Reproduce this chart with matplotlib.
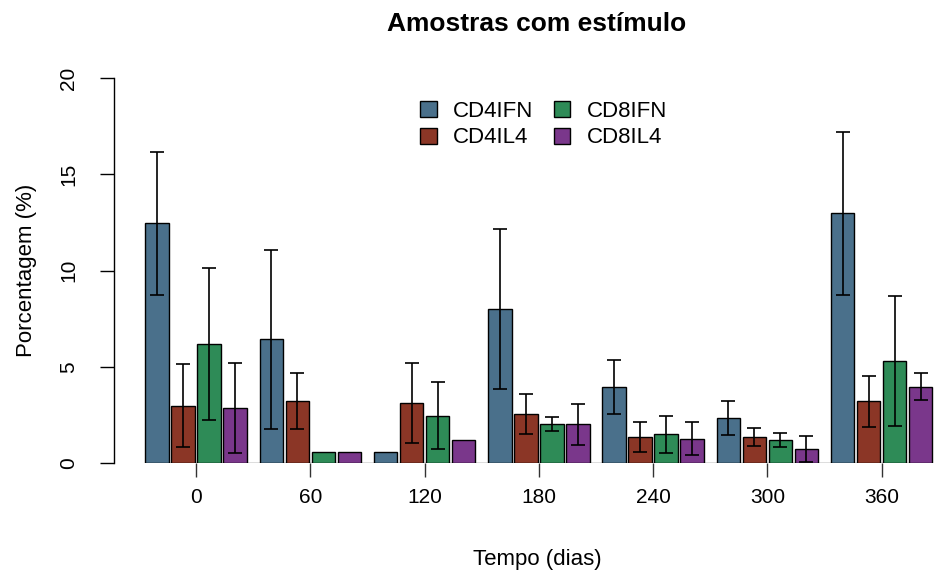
import numpy as np
import matplotlib
matplotlib.use("Agg")
import matplotlib.pyplot as plt
from matplotlib.patches import Patch

plt.rcParams['font.family'] = ['Liberation Sans', 'DejaVu Sans']

# dias de coleta
dias = ['0', '60', '120', '180', '240', '300', '360']
series = ['CD4IFN', 'CD4IL4', 'CD8IFN', 'CD8IL4']
cores = ['#4A708B', '#8B3626', '#2E8B57', '#7A378B']

# medias (%)
cd4ifn = [12.45, 6.42, 0.59, 8.00, 3.95, 2.32, 12.97]
cd4il4 = [2.98, 3.20, 3.13, 2.55, 1.33, 1.35, 3.20]
cd8ifn = [6.18, 0.59, 2.46, 2.01, 1.49, 1.19, 5.30]
cd8il4 = [2.86, 0.59, 1.19, 2.01, 1.26, 0.74, 3.95]

# desvios
sd_cd4ifn = [3.72, 4.63, 0.0, 4.17, 1.41, 0.89, 4.24]
sd_cd4il4 = [2.15, 1.45, 2.08, 1.04, 0.78, 0.47, 1.33]
sd_cd8ifn = [3.95, 0.0, 1.75, 0.36, 0.96, 0.37, 3.40]
sd_cd8il4 = [2.35, 0.0, 0.0, 1.08, 0.85, 0.68, 0.70]

medias = [cd4ifn, cd4il4, cd8ifn, cd8il4]
desvios = [sd_cd4ifn, sd_cd4il4, sd_cd8ifn, sd_cd8il4]

fig = plt.figure(figsize=(9.35, 5.76), dpi=100)
ax = fig.add_axes([114/935, 113/576, 821/935, 385/576])

x = np.arange(len(dias))
passo = 0.2275
larg = 0.205
for k in range(4):
    pos = x + (k - 1.5) * passo
    ax.bar(pos, medias[k], width=larg, color=cores[k], edgecolor='black',
           linewidth=1, zorder=2)
    m = np.array(medias[k])
    s = np.array(desvios[k])
    tem = s > 0
    ax.errorbar(pos[tem], m[tem], yerr=s[tem], fmt='none', ecolor='black',
                elinewidth=1.2, capsize=5, capthick=1.2, zorder=3, clip_on=False)

ax.hlines(0, x[0] - 1.5 * passo - larg / 2, x[-1] + 1.5 * passo + larg / 2,
          color='#555555', linewidth=1, zorder=1)

ax.set_xlim(-0.717, 6.466)
ax.set_ylim(0, 20)
for sp in ['top', 'right', 'bottom']:
    ax.spines[sp].set_visible(False)
ax.spines['left'].set_bounds(0, 20)
ax.spines['left'].set_linewidth(1)
ax.set_yticks([0, 5, 10, 15, 20])
ax.set_yticklabels(['0', '5', '10', '15', '20'], rotation=90, va='center')
ax.tick_params(axis='y', length=10, width=1, labelsize=15, pad=16)
ax.set_xticks(x)
ax.set_xticklabels(dias)
ax.tick_params(axis='x', length=10, width=1, labelsize=15, pad=8, color='#333333')

ax.set_ylabel('Porcentagem (%)', fontsize=16, labelpad=16)
fig.text(537/935, 1 - 560/576, 'Tempo (dias)', fontsize=16, ha='center', va='center')
fig.text(537/935, 1 - 24/576, 'Amostras com estímulo', fontsize=19,
         fontweight='bold', ha='center', va='center')

handles = [Patch(facecolor=c, edgecolor='black', linewidth=1) for c in cores]
ax.legend(handles, series, ncol=2, frameon=False, fontsize=16,
          loc='upper left', bbox_to_anchor=((411 - 114)/821, 1 - (92 - 78)/385),
          handlelength=0.75, handleheight=0.75, handletextpad=0.75,
          columnspacing=0.9, labelspacing=0.25, borderaxespad=0)

fig.savefig('out.png', dpi=100)
